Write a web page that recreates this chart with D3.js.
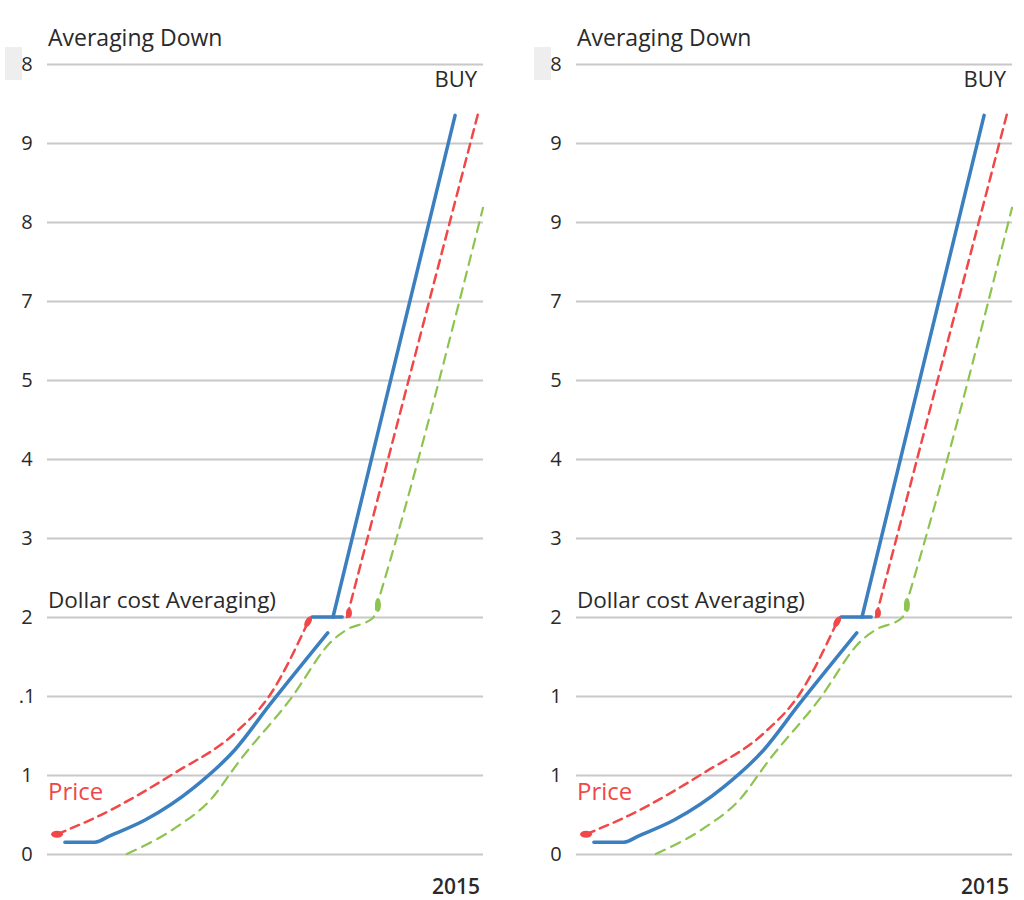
<!DOCTYPE html>
<html>
<head>
<meta charset="utf-8">
<script src="https://cdn.jsdelivr.net/npm/d3@7"></script>
<style>
  body { margin: 0; background: #fff; }
  svg text { font-family: "Open Sans", "DejaVu Sans", sans-serif; }
</style>
</head>
<body>
<svg id="chart" width="1024" height="900"></svg>
<script>
// tick labels as printed on each panel (bottom to top)
var leftTicks  = ["0", "1", ".1", "2", "3", "4", "5", "7", "8", "9", "8"];
var rightTicks = ["0", "1", "1", "2", "3", "4", "5", "7", "9", "9", "8"];
var tickPos = [0, 1, 2, 3, 4, 5, 6, 7, 8, 9, 10];

// series, x in 0..100 across the plot, y in grid units
var blueLow  = [[4.1, 0.15], [11.0, 0.15], [14.4, 0.23], [22.5, 0.43], [33.9, 0.85], [43.1, 1.32], [51.1, 1.89], [64.4, 2.80]];
var blueFlat = [[60.8, 3.0], [67.7, 3.0]];
var blueHigh = [[65.6, 3.0], [93.6, 9.35]];
var redLow   = [[2.3, 0.25], [12.2, 0.49], [29.4, 1.03], [43.1, 1.53], [51.1, 2.01], [59.9, 2.94]];
var redHigh  = [[68.8, 3.0], [98.9, 9.38]];
var green    = [[18.3, 0.0], [29.4, 0.33], [37.4, 0.68], [44.3, 1.19], [55.7, 1.95], [65.6, 2.71], [68.8, 2.84], [74.8, 2.99], [75.9, 3.19], [100, 8.18]];

var svg = d3.select("#chart");

function drawPanel(left, ticks) {
  var w = 436, top = 64, bottom = 854;
  var x = d3.scaleLinear().domain([0, 100]).range([0, w]);
  var y = d3.scaleLinear().domain([0, 10]).range([bottom - top, 0]);
  var g = svg.append("g").attr("transform", "translate(" + left + "," + top + ")");

  // little grey box behind the top label
  g.append("rect").attr("x", -42).attr("y", -17).attr("width", 17).attr("height", 33).attr("fill", "#eeeeee");

  var ax = g.append("g").call(d3.axisLeft(y).tickValues(tickPos)
      .tickFormat(function(d, i) { return ticks[i]; })
      .tickSize(-w).tickPadding(12));
  ax.select(".domain").remove();
  ax.selectAll(".tick line").attr("stroke", "#c8c8c8").attr("stroke-width", 2);
  ax.selectAll(".tick text").attr("fill", "#2a2a2a").style("font-size", "20px").style("font-weight", "500")
    .attr("text-anchor", "middle").attr("x", -20);

  var curved = d3.line().curve(d3.curveMonotoneX).x(function(d) { return x(d[0]); }).y(function(d) { return y(d[1]); });
  var straight = d3.line().x(function(d) { return x(d[0]); }).y(function(d) { return y(d[1]); });

  function path(data, gen, color, dash, width) {
    g.append("path").datum(data).attr("d", gen).attr("fill", "none")
      .attr("stroke", color).attr("stroke-width", width).attr("stroke-linecap", "round")
      .attr("stroke-dasharray", dash);
  }
  path(redLow, curved, "#f04848", "9,6", 2.5);
  path(redHigh, straight, "#f04848", "9,6", 2.5);
  path(green, curved, "#8dc450", "10,7", 2.2);
  path(blueLow, curved, "#3b7fc0", null, 3.5);
  path(blueFlat, straight, "#3b7fc0", null, 3.5);
  path(blueHigh, straight, "#3b7fc0", null, 3.5);

  // small markers at the segment ends
  g.append("ellipse").attr("cx", x(redLow[0][0])).attr("cy", y(redLow[0][1])).attr("rx", 6).attr("ry", 3.5).attr("fill", "#f04848");
  g.append("ellipse").attr("cx", x(redLow[5][0])).attr("cy", y(redLow[5][1])).attr("rx", 3).attr("ry", 6)
    .attr("transform", "rotate(30," + x(redLow[5][0]) + "," + y(redLow[5][1]) + ")").attr("fill", "#f04848");
  g.append("ellipse").attr("cx", x(redHigh[0][0]) + 2).attr("cy", y(redHigh[0][1]) - 4).attr("rx", 3).attr("ry", 5).attr("fill", "#f04848");
  g.append("ellipse").attr("cx", x(green[8][0])).attr("cy", y(green[8][1]) + 3).attr("rx", 3).attr("ry", 7).attr("fill", "#8dc450");

  g.append("text").attr("x", 1).attr("y", -18).attr("fill", "#2a2a2a").style("font-size", "23px").style("font-weight", "500").text("Averaging Down");
  g.append("text").attr("x", w - 6).attr("y", 23).attr("text-anchor", "end").attr("fill", "#2a2a2a").style("font-size", "22px").style("font-weight", "500").text("BUY");
  g.append("text").attr("x", 1).attr("y", 544).attr("fill", "#2a2a2a").style("font-size", "22.5px").style("font-weight", "500").text("Dollar cost Averaging)");
  g.append("text").attr("x", 1).attr("y", 736).attr("fill", "#f04848").style("font-size", "24px").style("font-weight", "500").text("Price");
  g.append("text").attr("x", w - 3).attr("y", 830).attr("text-anchor", "end").attr("fill", "#2a2a2a").style("font-size", "21px").style("font-weight", "600").text("2015");
}

drawPanel(47, leftTicks);
drawPanel(576, rightTicks);
</script>
</body>
</html>
